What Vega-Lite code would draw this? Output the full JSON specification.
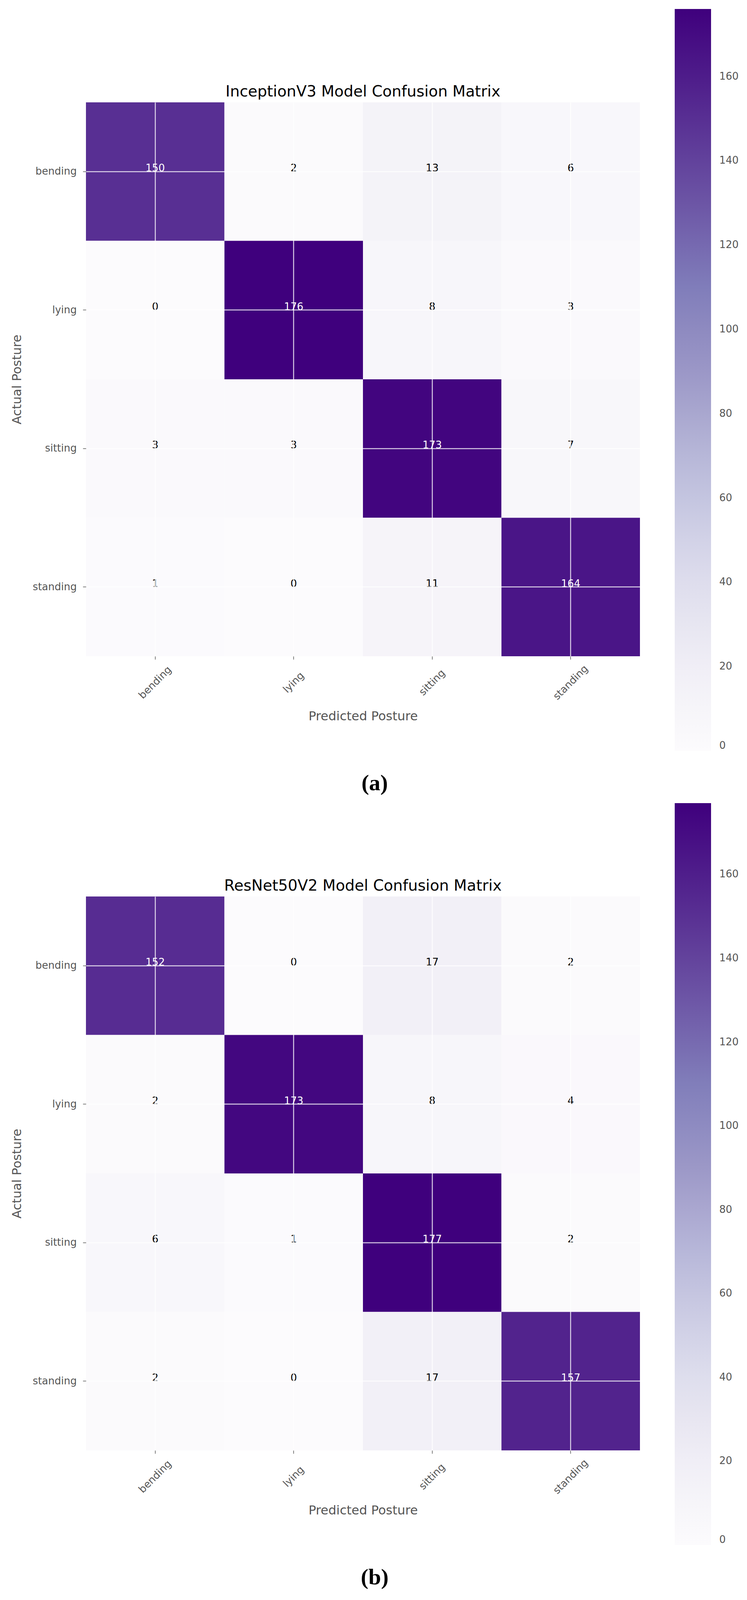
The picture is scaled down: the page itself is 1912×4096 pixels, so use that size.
{
  "$schema": "https://vega.github.io/schema/vega-lite/v6.json",
  "padding": {"left": 27, "top": 23, "right": 0, "bottom": 0},
  "autosize": {"type": "pad"},
  "background": "white",
  "spacing": 21,
  "config": {"view": {"stroke": null}, "font": "DejaVu Sans"},
  "resolve": {"scale": {"color": "independent"}, "legend": {"color": "independent"}},
  "datasets": {
    "a": [
      {"actual": "bending", "predicted": "bending", "count": 150},
      {"actual": "bending", "predicted": "lying", "count": 2},
      {"actual": "bending", "predicted": "sitting", "count": 13},
      {"actual": "bending", "predicted": "standing", "count": 6},
      {"actual": "lying", "predicted": "bending", "count": 0},
      {"actual": "lying", "predicted": "lying", "count": 176},
      {"actual": "lying", "predicted": "sitting", "count": 8},
      {"actual": "lying", "predicted": "standing", "count": 3},
      {"actual": "sitting", "predicted": "bending", "count": 3},
      {"actual": "sitting", "predicted": "lying", "count": 3},
      {"actual": "sitting", "predicted": "sitting", "count": 173},
      {"actual": "sitting", "predicted": "standing", "count": 7},
      {"actual": "standing", "predicted": "bending", "count": 1},
      {"actual": "standing", "predicted": "lying", "count": 0},
      {"actual": "standing", "predicted": "sitting", "count": 11},
      {"actual": "standing", "predicted": "standing", "count": 164}
    ],
    "b": [
      {"actual": "bending", "predicted": "bending", "count": 152},
      {"actual": "bending", "predicted": "lying", "count": 0},
      {"actual": "bending", "predicted": "sitting", "count": 17},
      {"actual": "bending", "predicted": "standing", "count": 2},
      {"actual": "lying", "predicted": "bending", "count": 2},
      {"actual": "lying", "predicted": "lying", "count": 173},
      {"actual": "lying", "predicted": "sitting", "count": 8},
      {"actual": "lying", "predicted": "standing", "count": 4},
      {"actual": "sitting", "predicted": "bending", "count": 6},
      {"actual": "sitting", "predicted": "lying", "count": 1},
      {"actual": "sitting", "predicted": "sitting", "count": 177},
      {"actual": "sitting", "predicted": "standing", "count": 2},
      {"actual": "standing", "predicted": "bending", "count": 2},
      {"actual": "standing", "predicted": "lying", "count": 0},
      {"actual": "standing", "predicted": "sitting", "count": 17},
      {"actual": "standing", "predicted": "standing", "count": 157}
    ]
  },
  "vconcat": [
    {
      "title": {"text": "(a)", "orient": "bottom", "anchor": "middle", "font": "Liberation Serif", "fontWeight": "bold", "fontSize": 58, "color": "black", "baseline": "alphabetic", "offset": 101},
      "resolve": {"scale": {"color": "independent"}, "legend": {"color": "independent"}},
      "vconcat": [
        {
          "width": 1418, "height": 1418,
          "title": {"text": "InceptionV3 Model Confusion Matrix", "fontSize": 39, "font": "DejaVu Sans", "fontWeight": "normal", "color": "black", "frame": "group", "anchor": "middle", "baseline": "alphabetic", "offset": -263},
          "data": {"name": "a"},
          "encoding": {
            "x": {"field": "predicted", "type": "nominal", "sort": null,
              "scale": {"domain": ["bending", "lying", "sitting", "standing"], "paddingInner": 0, "paddingOuter": 0},
              "axis": {"orient": "bottom", "title": "Predicted Posture", "titleFontSize": 32, "titleFont": "DejaVu Sans", "titleFontWeight": "normal", "titleColor": "#555555", "titleY": 153, "titleBaseline": "middle",
                "labelAngle": -45, "labelAlign": "center", "labelBaseline": "middle", "labelFontSize": 26, "labelFont": "DejaVu Sans", "labelColor": "#555555", "labelPadding": 59,
                "tickSize": 8, "tickColor": "#555555", "tickWidth": 1.5, "domain": false, "grid": true, "gridColor": "white", "gridWidth": 2.5, "gridOpacity": 0.8, "bandPosition": 0.5, "zindex": 1}},
            "y": {"field": "actual", "type": "nominal", "sort": null,
              "scale": {"domain": ["bending", "lying", "sitting", "standing"], "paddingInner": 0, "paddingOuter": 0},
              "axis": {"title": "Actual Posture", "titleFontSize": 32, "titleFont": "DejaVu Sans", "titleFontWeight": "normal", "titleColor": "#555555", "titleX": -177, "titleBaseline": "middle",
                "labelFontSize": 26, "labelFont": "DejaVu Sans", "labelColor": "#555555", "labelPadding": 16,
                "tickSize": 8, "tickColor": "#555555", "tickWidth": 1.5, "domain": false, "grid": true, "gridColor": "white", "gridWidth": 2.5, "gridOpacity": 0.8, "bandPosition": 0.5, "zindex": 1}}
          },
          "layer": [
            {"mark": {"type": "rect"},
             "encoding": {"color": {"field": "count", "type": "quantitative",
               "scale": {"domain": [0, 22, 44, 66, 88, 110, 132, 154, 176], "range": ["#fcfbfd", "#efedf5", "#dadaeb", "#bcbddc", "#9e9ac8", "#807dba", "#6a51a3", "#54278f", "#3f007d"], "interpolate": "rgb"},
               "legend": {"orient": "none", "legendX": 1507, "legendY": -239, "direction": "vertical", "gradientLength": 1899, "gradientThickness": 93, "values": [0, 20, 40, 60, 80, 100, 120, 140, 160], "labelFontSize": 26, "labelFont": "DejaVu Sans", "labelColor": "#555555", "labelOffset": 21, "labelBaseline": "middle", "labelOverlap": false, "title": null, "gradientStrokeWidth": 0, "padding": 0}}}},
            {"mark": {"type": "text", "baseline": "alphabetic", "fontSize": 26, "font": "DejaVu Sans"},
             "encoding": {"text": {"field": "count", "type": "quantitative"},
               "color": {"condition": {"test": "datum.count > 88", "value": "white"}, "value": "black"}}}
          ]
        }
      ]
    },
    {
      "title": {"text": "(b)", "orient": "bottom", "anchor": "middle", "font": "Liberation Serif", "fontWeight": "bold", "fontSize": 58, "color": "black", "baseline": "alphabetic", "offset": 101},
      "resolve": {"scale": {"color": "independent"}, "legend": {"color": "independent"}},
      "vconcat": [
        {
          "width": 1418, "height": 1418,
          "title": {"text": "ResNet50V2 Model Confusion Matrix", "fontSize": 39, "font": "DejaVu Sans", "fontWeight": "normal", "color": "black", "frame": "group", "anchor": "middle", "baseline": "alphabetic", "offset": -263},
          "data": {"name": "b"},
          "encoding": {
            "x": {"field": "predicted", "type": "nominal", "sort": null,
              "scale": {"domain": ["bending", "lying", "sitting", "standing"], "paddingInner": 0, "paddingOuter": 0},
              "axis": {"orient": "bottom", "title": "Predicted Posture", "titleFontSize": 32, "titleFont": "DejaVu Sans", "titleFontWeight": "normal", "titleColor": "#555555", "titleY": 153, "titleBaseline": "middle",
                "labelAngle": -45, "labelAlign": "center", "labelBaseline": "middle", "labelFontSize": 26, "labelFont": "DejaVu Sans", "labelColor": "#555555", "labelPadding": 59,
                "tickSize": 8, "tickColor": "#555555", "tickWidth": 1.5, "domain": false, "grid": true, "gridColor": "white", "gridWidth": 2.5, "gridOpacity": 0.8, "bandPosition": 0.5, "zindex": 1}},
            "y": {"field": "actual", "type": "nominal", "sort": null,
              "scale": {"domain": ["bending", "lying", "sitting", "standing"], "paddingInner": 0, "paddingOuter": 0},
              "axis": {"title": "Actual Posture", "titleFontSize": 32, "titleFont": "DejaVu Sans", "titleFontWeight": "normal", "titleColor": "#555555", "titleX": -177, "titleBaseline": "middle",
                "labelFontSize": 26, "labelFont": "DejaVu Sans", "labelColor": "#555555", "labelPadding": 16,
                "tickSize": 8, "tickColor": "#555555", "tickWidth": 1.5, "domain": false, "grid": true, "gridColor": "white", "gridWidth": 2.5, "gridOpacity": 0.8, "bandPosition": 0.5, "zindex": 1}}
          },
          "layer": [
            {"mark": {"type": "rect"},
             "encoding": {"color": {"field": "count", "type": "quantitative",
               "scale": {"domain": [0, 22.125, 44.25, 66.375, 88.5, 110.625, 132.75, 154.875, 177], "range": ["#fcfbfd", "#efedf5", "#dadaeb", "#bcbddc", "#9e9ac8", "#807dba", "#6a51a3", "#54278f", "#3f007d"], "interpolate": "rgb"},
               "legend": {"orient": "none", "legendX": 1507, "legendY": -239, "direction": "vertical", "gradientLength": 1899, "gradientThickness": 93, "values": [0, 20, 40, 60, 80, 100, 120, 140, 160], "labelFontSize": 26, "labelFont": "DejaVu Sans", "labelColor": "#555555", "labelOffset": 21, "labelBaseline": "middle", "labelOverlap": false, "title": null, "gradientStrokeWidth": 0, "padding": 0}}}},
            {"mark": {"type": "text", "baseline": "alphabetic", "fontSize": 26, "font": "DejaVu Sans"},
             "encoding": {"text": {"field": "count", "type": "quantitative"},
               "color": {"condition": {"test": "datum.count > 88", "value": "white"}, "value": "black"}}}
          ]
        }
      ]
    }
  ]
}
